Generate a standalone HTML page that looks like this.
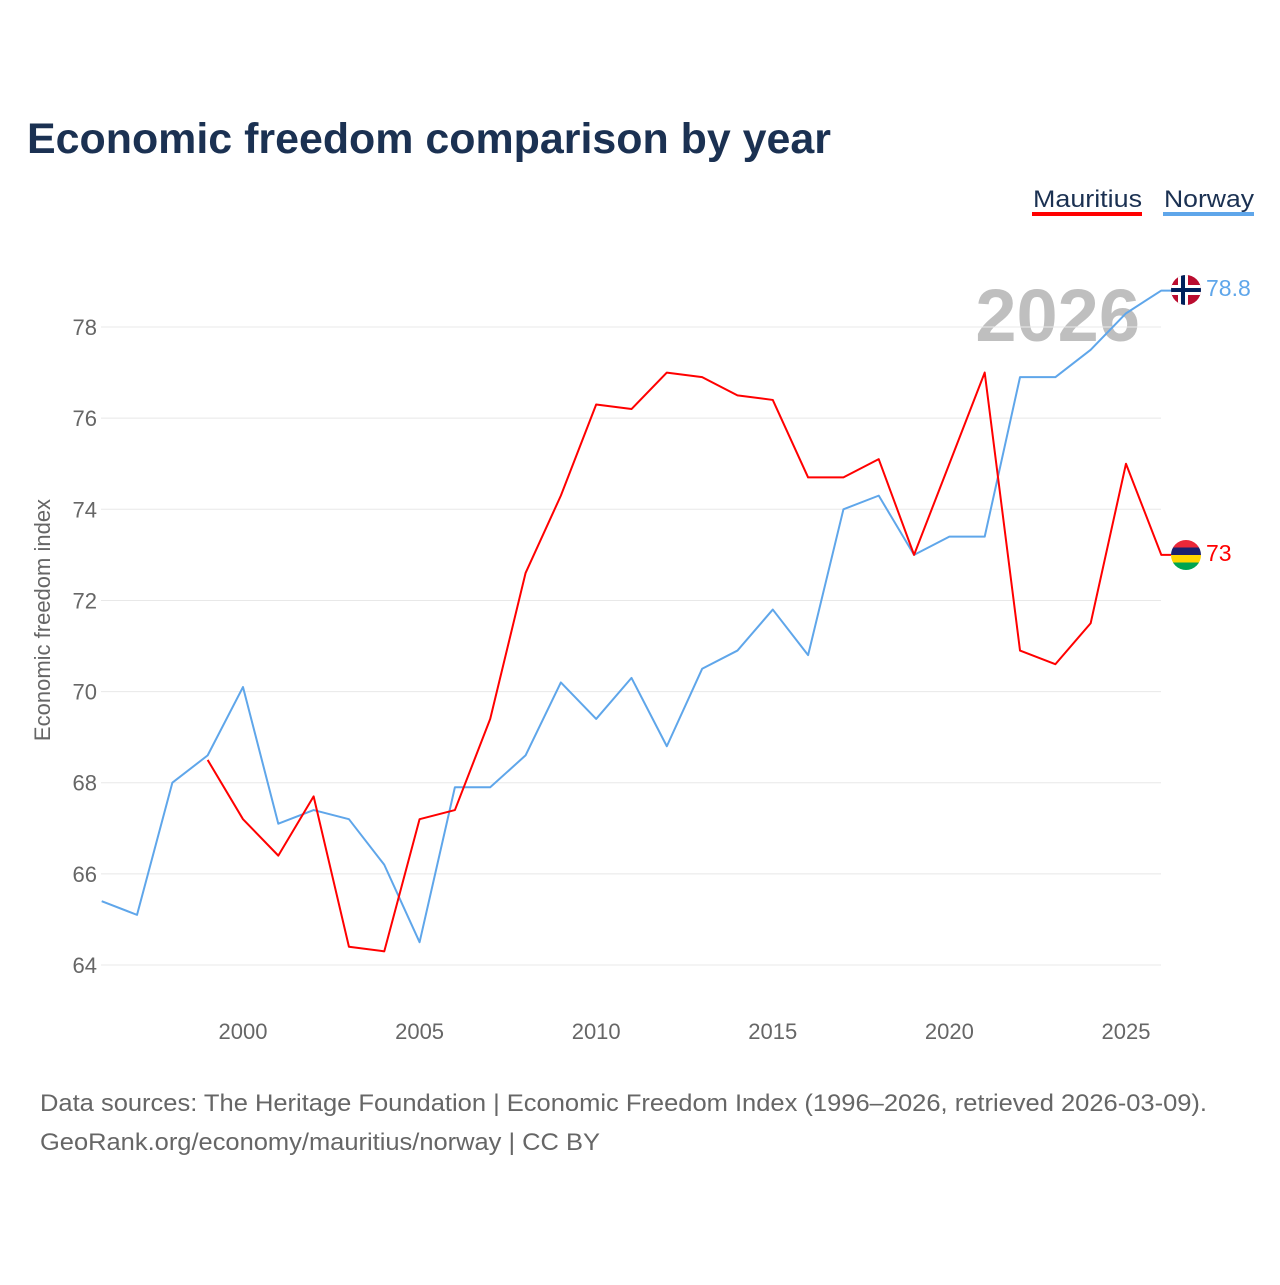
<!DOCTYPE html>
<html><head><meta charset="utf-8"><style>
body{margin:0;background:#fff;font-family:"Liberation Sans",sans-serif}
</style></head><body>
<svg width="1280" height="1280" xmlns="http://www.w3.org/2000/svg" id="chart" style="font-family:'Liberation Sans',sans-serif">
<text x="27" y="153" font-size="43" font-weight="bold" fill="#1b3152" textLength="804" lengthAdjust="spacingAndGlyphs">Economic freedom comparison by year</text>
<g>
<text x="1033" y="207" font-size="24" fill="#1b3152" textLength="109" lengthAdjust="spacingAndGlyphs">Mauritius</text>
<rect x="1032" y="212" width="110" height="4" fill="#ff0000"/>
<text x="1164" y="207" font-size="24" fill="#1b3152" textLength="90" lengthAdjust="spacingAndGlyphs">Norway</text>
<rect x="1163" y="212" width="91" height="4" fill="#5fa6ea"/>
</g>
<text x="1140" y="341" font-size="74" font-weight="bold" fill="#bfbfbf" text-anchor="end">2026</text>
<text transform="translate(50,620) rotate(-90)" font-size="22" fill="#666" text-anchor="middle">Economic freedom index</text>
<g id="grid"></g><g id="lines"></g>
<g>
<clipPath id="cn"><circle cx="1186" cy="290" r="15"/></clipPath>
<g clip-path="url(#cn)"><rect x="1171" y="275" width="30" height="30" fill="#ba0c2f"/><rect x="1171" y="285" width="30" height="10" fill="#fff"/><rect x="1178" y="275" width="10" height="30" fill="#fff"/><rect x="1171" y="288" width="30" height="4" fill="#00205b"/><rect x="1181" y="275" width="4" height="30" fill="#00205b"/></g>
</g>
<g>
<clipPath id="cm"><circle cx="1186" cy="555" r="15"/></clipPath>
<g clip-path="url(#cm)"><rect x="1171" y="540" width="30" height="8" fill="#ea2839"/><rect x="1171" y="547.5" width="30" height="8" fill="#1a206d"/><rect x="1171" y="555" width="30" height="8" fill="#ffd500"/><rect x="1171" y="562.5" width="30" height="8" fill="#00a551"/></g>
</g>
<text x="1206" y="296" font-size="23" fill="#5fa6ea">78.8</text>
<text x="1206" y="561" font-size="23" fill="#ff0000">73</text>
<text x="40" y="1111" font-size="24" fill="#666" textLength="1167" lengthAdjust="spacingAndGlyphs">Data sources: The Heritage Foundation | Economic Freedom Index (1996–2026, retrieved 2026-03-09).</text>
<text x="40" y="1150" font-size="24" fill="#666" textLength="560" lengthAdjust="spacingAndGlyphs">GeoRank.org/economy/mauritius/norway | CC BY</text>
</svg>
<script>
const years=[1996,1997,1998,1999,2000,2001,2002,2003,2004,2005,2006,2007,2008,2009,2010,2011,2012,2013,2014,2015,2016,2017,2018,2019,2020,2021,2022,2023,2024,2025,2026];
const norway=[65.4,65.1,68.0,68.6,70.1,67.1,67.4,67.2,66.2,64.5,67.9,67.9,68.6,70.2,69.4,70.3,68.8,70.5,70.9,71.8,70.8,74.0,74.3,73.0,73.4,73.4,76.9,76.9,77.5,78.3,78.8];
const mauritius=[null,null,null,68.5,67.2,66.4,67.7,64.4,64.3,67.2,67.4,69.4,72.6,74.3,76.3,76.2,77.0,76.9,76.5,76.4,74.7,74.7,75.1,73.0,75.0,77.0,70.9,70.6,71.5,75.0,73.0];
const yTicks=[64,66,68,70,72,74,76,78];
const xTicks=[2000,2005,2010,2015,2020,2025];
const NS="http://www.w3.org/2000/svg";
const xs=y=>101.7+(y-1996)*35.32;
const ys=v=>965-(v-64)*45.57;
const grid=document.getElementById('grid'),lines=document.getElementById('lines');
function mk(t,a,p){const e=document.createElementNS(NS,t);for(const k in a)e.setAttribute(k,a[k]);p.appendChild(e);return e;}
yTicks.forEach(v=>{
 const l=mk('line',{x1:101,x2:1161,y1:ys(v),y2:ys(v),stroke:'#e8e8e8','stroke-width':1},grid);
 
 
 const t=mk('text',{x:97,y:ys(v)+8,'font-size':22,fill:'#666','text-anchor':'end'},grid);t.textContent=v;
 
 
});
xTicks.forEach(v=>{
 const t=mk('text',{x:xs(v),y:1039,'font-size':22,fill:'#666','text-anchor':'middle'},grid);t.textContent=v;
 
 
});
function series(vals,color,name){
 let d='';let last=null;
 vals.forEach((v,i)=>{if(v==null)return;d+=(d?'L':'M')+xs(years[i])+','+ys(v);last=v;});
 d+='L1171,'+ys(last);
 const p=mk('path',{d:d,fill:'none',stroke:color,'stroke-width':2,'stroke-linejoin':'round'},lines);
 
 
}
series(norway,'#5fa6ea','norway-line');
series(mauritius,'#ff0000','mauritius-line');
</script>
</body></html>
